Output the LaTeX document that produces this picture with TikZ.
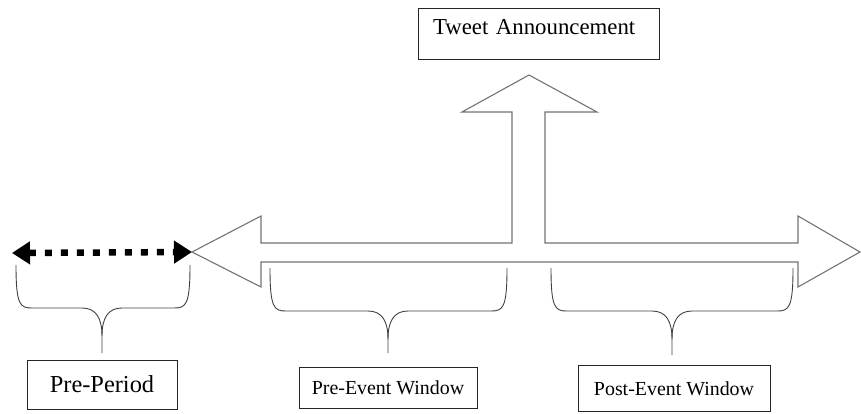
\documentclass[tikz,border=0pt]{standalone}
\usepackage{fontspec}
\setmainfont{Liberation Serif}
\usetikzlibrary{arrows.meta,calc}
\colorlet{outline}{black!55}

% curly bracket under a time window: #1 left x, #2 right x, #3 top y, #4 bar y, #5 tip name
\newcommand{\windowbrace}[5]{%
  \draw [bracket] (#1,#3) .. controls (#1,{#4-3}) and ({#1+4},#4) .. ({#1+16},#4)
    -- ($(#5 |- 0,#4)+(-20,0)$) .. controls ($(#5 |- 0,#4)+(-6,0)$) and ($(#5 |- 0,#4)+(0,10)$) .. ($(#5 |- 0,#4)+(0,28)$)
    -- (#5);
  \draw [bracket] (#2,#3) .. controls (#2,{#4-3}) and ({#2-4},#4) .. ({#2-16},#4)
    -- ($(#5 |- 0,#4)+(20,0)$) .. controls ($(#5 |- 0,#4)+(6,0)$) and ($(#5 |- 0,#4)+(0,10)$) .. ($(#5 |- 0,#4)+(0,28)$);
}

\begin{document}
\begin{tikzpicture}[
    x=1pt, y=-1pt,
    label box/.style={draw=black!85, line width=0.9pt, rectangle, inner sep=0pt},
    timeline/.style={draw=outline, line width=1.1pt, line join=miter},
    bracket/.style={draw=black!75, line width=0.9pt},
    pre arrow/.style={line width=6.5pt, dash pattern=on 7pt off 9pt, {Triangle[length=18pt,width=22pt]}-{Triangle[length=18pt,width=22pt]}}
  ]
  \useasboundingbox (0,0) rectangle (861,414);

  % the block arrow: two heads and the upward branch
  \coordinate (ltip) at (192,252);
  \coordinate (rtip) at (860,252);
  \coordinate (utip) at (529,75);
  \path [timeline] (ltip) -- (261,216) -- (261,243) -- (512,243) -- (512,112) -- (462,112)
    -- (utip) -- (597,112) -- (545,112) -- (545,243) -- (798,243) -- (798,216)
    -- (rtip) -- (798,287) -- (798,262) -- (261,262) -- (261,287) -- cycle;

  % boxes
  \node [label box, minimum width=241pt, minimum height=51pt, text height=15pt, text depth=12pt,
    text width=211pt, align=left, font=\fontsize{22.8}{25}\selectfont] (tweet) at (538.5,33.5) {Tweet Announcement};
  \node [label box, minimum width=150pt, minimum height=49pt, font=\fontsize{24.4}{27}\selectfont]
    (pre) at (102,384.5) {Pre-Period};
  \node [label box, minimum width=178pt, minimum height=41pt, font=\fontsize{19.9}{22}\selectfont]
    (preev) at (388,387.5) {Pre-Event Window};
  \node [label box, minimum width=192pt, minimum height=46pt, font=\fontsize{19.9}{22}\selectfont]
    (postev) at (674,388.5) {Post-Event Window};

  % dotted pre-period arrow
  \coordinate (pstart) at (12,253);
  \draw [pre arrow] (pstart) -- (ltip);

  % brackets
  \coordinate (pretip) at (102,353);
  \coordinate (preevtip) at (388,353);
  \coordinate (postevtip) at (672,355);
  \windowbrace{16}{190}{265}{308}{pretip}
  \windowbrace{270}{507}{268}{311}{preevtip}
  \windowbrace{551}{793}{268}{311}{postevtip}
\end{tikzpicture}
\end{document}
